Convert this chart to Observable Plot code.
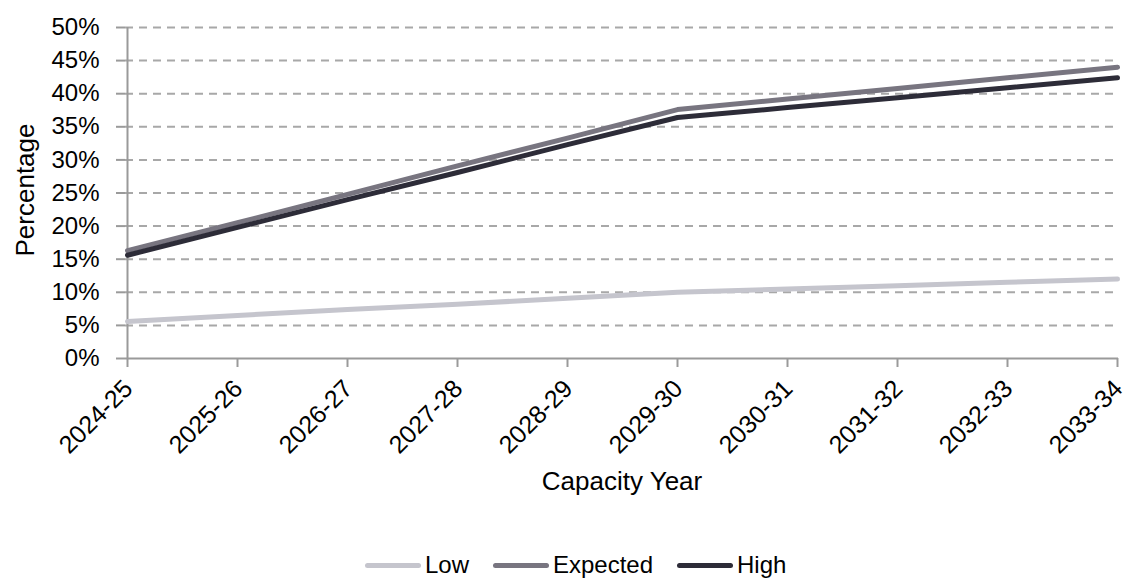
<!DOCTYPE html>
<html>
<head>
<meta charset="utf-8">
<script src="https://cdn.jsdelivr.net/npm/d3@7"></script>
<script src="https://cdn.jsdelivr.net/npm/@observablehq/plot@0.6"></script>
<style>
  html, body { margin: 0; padding: 0; background: #fff; }
  #chart { width: 1126px; font-family: "Liberation Sans", Arial, sans-serif; }
  .legend { position: relative; height: 49px; }
  .legend .item { position: absolute; top: 23px; display: flex; align-items: center; height: 24px; font-size: 24px; color: #000; }
  .legend .swatch { width: 56px; height: 5px; border-radius: 3px; margin-right: 4px; }
</style>
</head>
<body>
<div id="chart"></div>
<script>
// Capacity years along the x axis
const years = ["2024-25", "2025-26", "2026-27", "2027-28", "2028-29",
               "2029-30", "2030-31", "2031-32", "2032-33", "2033-34"];

// Scenario names and their line colours
const seriesNames = ["Low", "Expected", "High"];
const seriesColors = ["#c5c5cd", "#787580", "#2d2c38"];

// Percentage per capacity year for each scenario
const lowValues = [5.6, 6.5, 7.4, 8.2, 9.1, 10.0, 10.5, 11.0, 11.5, 12.0];
const expectedValues = [16.3, 20.5, 24.8, 29.1, 33.3, 37.6, 39.2, 40.8, 42.4, 44.0];
const highValues = [15.6, 19.8, 24.0, 28.1, 32.3, 36.4, 37.9, 39.4, 40.9, 42.4];

// y axis tick values (percent)
const yTicks = [0, 5, 10, 15, 20, 25, 30, 35, 40, 45, 50];

const valuesBySeries = {Low: lowValues, Expected: expectedValues, High: highValues};
const rows = seriesNames.flatMap(name =>
  years.map((year, i) => ({series: name, year, value: valuesBySeries[name][i]}))
);

const axisGray = "#9a9a9a";
const gridGray = "#a8a8a8";
const font = "'Liberation Sans', Arial, sans-serif";

const plot = Plot.plot({
  width: 1126,
  height: 530,
  marginLeft: 125,
  marginRight: 8,
  marginTop: 27,
  marginBottom: 172,
  style: {fontFamily: font, color: "#000", background: "#fff", overflow: "visible"},
  x: {type: "point", domain: years, padding: 0},
  y: {domain: [0, 50]},
  color: {domain: seriesNames, range: seriesColors},
  marks: [
    // dashed horizontal gridlines
    Plot.ruleY(yTicks.filter(v => v > 0), {stroke: gridGray, strokeWidth: 2, strokeDasharray: "8,6"}),
    // y axis ticks and labels
    Plot.axisY({
      ticks: yTicks,
      tickSize: 9,
      tickPadding: 17,
      tickFormat: d => d + "%",
      stroke: axisGray,
      strokeWidth: 2,
      fontSize: 24,
      label: null
    }),
    // x axis tick marks
    Plot.axisX({
      tickSize: 9,
      text: null,
      stroke: axisGray,
      strokeWidth: 2,
      label: null
    }),
    // x axis rotated labels, set a little further below the axis
    Plot.axisX({
      tickSize: 0,
      tickPadding: 6,
      tickRotate: -45,
      dy: 20,
      dx: 1,
      fontSize: 25,
      label: null
    }),
    // axis lines
    Plot.ruleX([years[0]], {stroke: axisGray, strokeWidth: 2}),
    Plot.ruleY([0], {stroke: axisGray, strokeWidth: 2}),
    // scenario lines
    Plot.line(rows, {
      x: "year",
      y: "value",
      z: "series",
      stroke: "series",
      strokeWidth: 5,
      strokeLinecap: "round",
      strokeLinejoin: "round"
    }),
    // axis titles
    Plot.text(["Capacity Year"], {frameAnchor: "bottom", dy: 131, fontSize: 26, fill: "#000"}),
    Plot.text(["Percentage"], {frameAnchor: "left", textAnchor: "middle", rotate: -90, dx: -100, dy: -3, fontSize: 26, fill: "#000"})
  ]
});

const chart = document.getElementById("chart");
chart.appendChild(plot);

// Line-swatch legend below the chart
const legend = document.createElement("div");
legend.className = "legend";
const legendLeft = [365, 493, 677];
seriesNames.forEach((name, i) => {
  const item = document.createElement("div");
  item.className = "item";
  item.style.left = legendLeft[i] + "px";
  const sw = document.createElement("span");
  sw.className = "swatch";
  sw.style.background = seriesColors[i];
  const label = document.createElement("span");
  label.textContent = name;
  item.appendChild(sw);
  item.appendChild(label);
  legend.appendChild(item);
});
chart.appendChild(legend);
</script>
</body>
</html>
